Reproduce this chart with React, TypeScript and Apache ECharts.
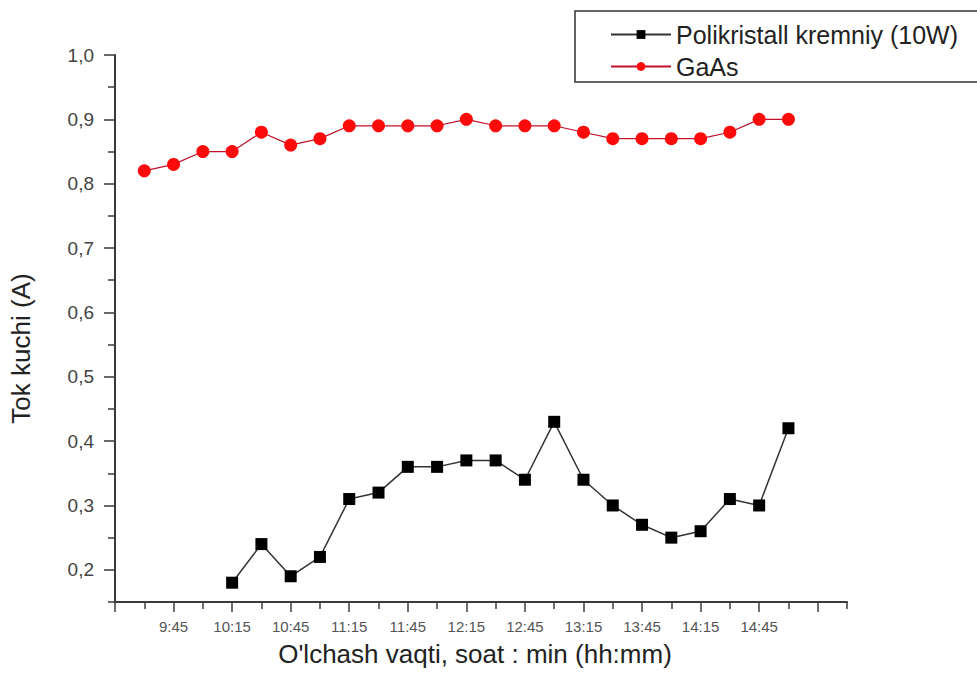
import React, { useEffect, useRef } from "react";
import * as echarts from "echarts";

// Measurement times (every 15 min)
const times = [
  "9:30", "9:45", "10:00", "10:15", "10:30", "10:45", "11:00", "11:15",
  "11:30", "11:45", "12:00", "12:15", "12:30", "12:45", "13:00", "13:15",
  "13:30", "13:45", "14:00", "14:15", "14:30", "14:45", "15:00",
];
// Polikristall kremniy (10W) current, A (no data before 10:15)
const siValues: (number | null)[] = [
  null, null, null, 0.18, 0.24, 0.19, 0.22, 0.31, 0.32, 0.36, 0.36, 0.37,
  0.37, 0.34, 0.43, 0.34, 0.30, 0.27, 0.25, 0.26, 0.31, 0.30, 0.42,
];
// GaAs current, A
const gaasValues = [
  0.82, 0.83, 0.85, 0.85, 0.88, 0.86, 0.87, 0.89, 0.89, 0.89, 0.89, 0.90,
  0.89, 0.89, 0.89, 0.88, 0.87, 0.87, 0.87, 0.87, 0.88, 0.90, 0.90,
];
// Axis ticks
const xStart = "9:15";
const xEnd = "15:30";
const xLabelTimes = ["9:45", "10:15", "10:45", "11:15", "11:45", "12:15", "12:45", "13:15", "13:45", "14:15", "14:45"];
const xMajorTimes = ["9:15", "9:45", "10:15", "10:45", "11:15", "11:45", "12:15", "12:45", "13:15", "13:45", "14:15", "14:45", "15:15"];
const xMinorTimes = ["9:30", "10:00", "10:30", "11:00", "11:30", "12:00", "12:30", "13:00", "13:30", "14:00", "14:30", "15:00", "15:30"];
const yMin = 0.15;
const yMax = 1.0;
const yMajor = [0.2, 0.3, 0.4, 0.5, 0.6, 0.7, 0.8, 0.9, 1.0];
const yMinor = [0.15, 0.25, 0.35, 0.45, 0.55, 0.65, 0.75, 0.85, 0.95];

const toAbsMin = (t: string) => {
  const [h, m] = t.split(":").map(Number);
  return h * 60 + m;
};
const base = toAbsMin(xStart);
const toX = (t: string) => toAbsMin(t) - base;
const fmtTime = (v: number) => {
  const a = Math.round(v + base);
  const h = Math.floor(a / 60);
  const m = a % 60;
  return `${h}:${m < 10 ? "0" + m : m}`;
};

const FONT = "'Liberation Sans', Arial, sans-serif";

export default function App() {
  const ref = useRef<HTMLDivElement>(null);
  useEffect(() => {
    if (!ref.current) return;
    const chart = echarts.init(ref.current, undefined, { renderer: "svg" });
    const siData = times
      .map((t, i) => [toX(t), siValues[i]])
      .filter((d) => d[1] !== null);
    const gaasData = times.map((t, i) => [toX(t), gaasValues[i]]);
    const axisLineStyle = { color: "#3a3a3a", width: 2 };
    chart.setOption({
      animation: false,
      backgroundColor: "#ffffff",
      textStyle: { fontFamily: FONT },
      grid: { left: 114, right: 130, top: 55, bottom: 75 },
      legend: {
        orient: "vertical",
        left: 575,
        top: 11,
        padding: [11, 40, 3, 35],
        borderColor: "#333",
        borderWidth: 1.5,
        itemWidth: 60,
        itemHeight: 11,
        itemGap: 7,
        textStyle: { fontFamily: FONT, fontSize: 25, lineHeight: 25, color: "#222" },
        data: ["Polikristall kremniy (10W)", "GaAs"],
      },
      xAxis: [
        {
          type: "value",
          min: toX(xStart),
          max: toX(xEnd),
          name: "O'lchash vaqti, soat : min (hh:mm)",
          nameLocation: "middle",
          nameGap: 39,
          nameTextStyle: { fontFamily: FONT, fontSize: 26, color: "#222", padding: [0, 12, 0, 0] },
          splitLine: { show: false },
          axisLine: { show: true, lineStyle: axisLineStyle },
          axisTick: {
            show: true,
            inside: false,
            length: 10,
            lineStyle: { color: "#3a3a3a", width: 1.5 },
            customValues: xMajorTimes.map(toX),
          },
          axisLabel: {
            customValues: xLabelTimes.map(toX),
            formatter: (v: number) => fmtTime(v),
            fontFamily: FONT,
            fontSize: 15,
            color: "#555",
            margin: 17,
          },
        },
        {
          type: "value",
          position: "bottom",
          min: toX(xStart),
          max: toX(xEnd),
          splitLine: { show: false },
          axisLine: { show: false },
          axisTick: {
            show: true,
            length: 7,
            lineStyle: { color: "#3a3a3a", width: 1.5 },
            customValues: xMinorTimes.map(toX),
          },
          axisLabel: { show: false },
        },
      ],
      yAxis: [
        {
          type: "value",
          min: yMin,
          max: yMax,
          position: "left",
          name: "Tok kuchi (A)",
          nameLocation: "middle",
          nameGap: 81,
          nameTextStyle: { fontFamily: FONT, fontSize: 26, color: "#222", padding: [0, 40, 0, 0] },
          splitLine: { show: false },
          axisLine: { show: true, lineStyle: axisLineStyle },
          axisTick: {
            show: true,
            length: 11,
            lineStyle: { color: "#3a3a3a", width: 1.5 },
            customValues: yMajor,
          },
          axisLabel: {
            customValues: yMajor,
            formatter: (v: number) => v.toFixed(1).replace(".", ","),
            fontFamily: FONT,
            fontSize: 19,
            color: "#444",
            margin: 21,
          },
        },
        {
          type: "value",
          min: yMin,
          max: yMax,
          position: "left",
          offset: 0,
          splitLine: { show: false },
          axisLine: { show: false },
          axisTick: {
            show: true,
            length: 7,
            lineStyle: { color: "#3a3a3a", width: 1.5 },
            customValues: yMinor,
          },
          axisLabel: { show: false },
        },
      ],
      series: [
        {
          name: "Polikristall kremniy (10W)",
          type: "line",
          data: siData,
          symbol: "rect",
          symbolSize: 12,
          lineStyle: { color: "#333", width: 1.5 },
          itemStyle: { color: "#000" },
        },
        {
          name: "GaAs",
          type: "line",
          data: gaasData,
          symbol: "circle",
          symbolSize: 13,
          lineStyle: { color: "#c0102a", width: 1.2 },
          itemStyle: { color: "#ff0a0a" },
        },
      ],
    });
    return () => chart.dispose();
  }, []);
  return (
    <div
      ref={ref}
      style={{ position: "absolute", left: 0, top: 0, width: 977, height: 677 }}
    />
  );
}
